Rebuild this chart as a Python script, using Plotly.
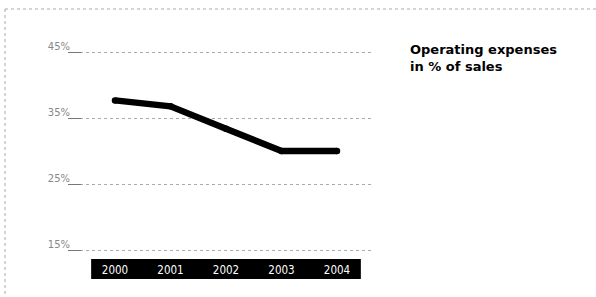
import plotly.graph_objects as go

years = ["2000", "2001", "2002", "2003", "2004"]
opex_pct = [37.8, 36.9, 33.5, 30.1, 30.1]
y_ticks = [15, 25, 35, 45]
y_tick_labels = ["15%", "25%", "35%", "45%"]

W, H = 596, 297
ml, mr, mt, mb = 68, 223, 40, 38
pw, ph = W - ml - mr, H - mt - mb

def px_to_paper_x(px):
    return (px - ml) / pw

def px_to_paper_y(py):
    return (H - mb - py) / ph

xi = list(range(len(years)))

fig = go.Figure()
fig.add_trace(go.Scatter(
    x=xi, y=opex_pct, mode="lines+markers",
    line=dict(color="black", width=6.5),
    marker=dict(color="black", size=6.5),
    hoverinfo="skip", showlegend=False,
))

shapes = [
    # black year band
    dict(type="rect", xref="x", yref="paper", x0=-0.43, x1=4.43,
         y0=px_to_paper_y(279), y1=px_to_paper_y(259),
         fillcolor="black", line=dict(width=0), layer="below"),
    # dotted frame (top and left)
    dict(type="line", xref="paper", yref="paper",
         x0=px_to_paper_x(5), x1=px_to_paper_x(600),
         y0=px_to_paper_y(9), y1=px_to_paper_y(9),
         line=dict(color="#aaaaaa", width=1, dash="dot")),
    dict(type="line", xref="paper", yref="paper",
         x0=px_to_paper_x(5), x1=px_to_paper_x(5),
         y0=px_to_paper_y(9), y1=px_to_paper_y(300),
         line=dict(color="#aaaaaa", width=1, dash="dot")),
]

fig.update_layout(
    width=W, height=H,
    margin=dict(l=ml, r=mr, t=mt, b=mb, pad=0),
    paper_bgcolor="white", plot_bgcolor="white",
    shapes=shapes,
    font=dict(family="DejaVu Sans", size=10, color="#888888"),
    xaxis=dict(
        range=[-0.847, 4.649], tickmode="array", tickvals=xi, ticktext=years,
        tickfont=dict(family="DejaVu Sans Condensed, DejaVu Sans", size=11.5, color="white"),
        showgrid=False, zeroline=False, showline=False, ticks="",
        ticklabelstandoff=2, fixedrange=True,
    ),
    yaxis=dict(
        range=[13.71, 46.97],
        tickmode="array", tickvals=y_ticks, ticktext=y_tick_labels,
        tickfont=dict(family="DejaVu Sans", size=10, color="#888888"),
        showgrid=True, gridcolor="#aaaaaa", griddash="dot", gridwidth=1,
        zeroline=False, showline=False,
        ticks="inside", ticklen=13, tickcolor="#777777", tickwidth=1,
        ticklabelshift=-6, ticklabelstandoff=-3, fixedrange=True,
    ),
    annotations=[dict(
        xref="paper", yref="paper",
        x=px_to_paper_x(408), y=px_to_paper_y(40),
        xanchor="left", yanchor="top", align="left", showarrow=False,
        text="<b>Operating expenses<br>in % of sales</b>",
        font=dict(family="DejaVu Sans", size=13, color="black"),
    )],
)

fig.write_html("out.html", config={"displayModeBar": False},
               post_script="document.body.style.margin='0';document.body.style.overflow='hidden';")
